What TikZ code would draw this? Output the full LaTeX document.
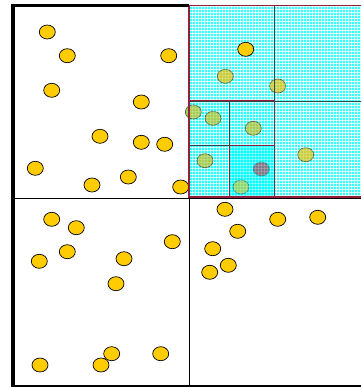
\documentclass[tikz,border=0pt]{standalone}
\usepackage{xcolor}
\definecolor{qgold}{RGB}{255, 204, 0}
\definecolor{qcyan}{RGB}{0, 255, 255}
\definecolor{qmaroon}{RGB}{150, 30, 60}
\definecolor{qslate}{RGB}{40, 70, 75}
\definecolor{qolive}{RGB}{200, 205, 60}
\definecolor{qlime}{RGB}{165, 205, 85}
\definecolor{qmint}{RGB}{140, 215, 110}
\definecolor{qmauve}{RGB}{125, 120, 135}
\usepackage{tikz}
\usetikzlibrary{shapes.geometric, patterns}

\begin{document}
\begin{tikzpicture}[x=1pt, y=-1pt,
    pt/.style={ellipse, draw=black, fill=qgold, line width=0.7pt,
               minimum width=16pt, minimum height=14pt, inner sep=0pt},
    ptin/.style={pt, draw=qslate!80!qgold, fill=#1},
    cell/.style={draw=qslate, line width=0.8pt},
    hatch/.style={pattern=grid, pattern color=white}]
      \useasboundingbox (0,0) rectangle (361,387);
      % points outside the marked quadrant
      \foreach \x/\y [count=\i] in {47.3/32, 67.3/55.7, 168.7/55.7, 51.7/90.3,
            141.3/102, 100/136.3, 141.3/142.3, 164.7/144.3, 35.3/168.3,
            92/185, 128.3/177, 180.7/187, 51.7/219.3, 76.3/227.7,
            172.3/241.7, 67.3/251.7, 39.3/261.3, 124/258.7, 116/283.7,
            111.7/353.7, 160.7/353.7, 40/365, 101/365, 225/209.3,
            277.7/219.3, 317.7/217.3, 237.7/231.3, 212.7/248.7,
            228.3/265.3, 209.7/272.3}
        \node[pt] (p\i) at (\x,\y) {};
      % quadtree cells
      \fill[qcyan!78] (189,5) rectangle (361,197);
      \fill[hatch, opacity=.7] (189,5) rectangle (361,197);
      \fill[qcyan!85] (188,101) rectangle (274,197);
      \fill[hatch, opacity=.6] (188,101) rectangle (274,197);
      \fill[qcyan] (229,145) rectangle (274,197);
      \fill[pattern=grid, pattern color=white, opacity=.25]
            (229,145) rectangle (274,197);
      % points inside the marked quadrant
      \foreach \x/\y [count=\i] in {225.3/76.3, 277.7/86, 305.7/154.7}
        \node[ptin=qolive] (a\i) at (\x,\y) {};
      \foreach \x/\y [count=\i] in {193.3/112, 213/118.3, 253.3/128.3,
            205/160.7}
        \node[ptin=qlime] (b\i) at (\x,\y) {};
      \node[ptin=qmint, draw=qslate!60!qcyan] (c1) at (241,187) {};
      \node[ptin=qmauve, draw=qslate!60!qcyan] (c2) at (261.3,169) {};
      \fill[hatch, opacity=.2] (189,5) rectangle (361,197);
      \draw[cell] (274,5) -- (274,197);
      \draw[cell] (189,101) -- (361,101);
      \draw[cell] (229,101) -- (229,197);
      \draw[cell] (189,145) -- (274,145);
      \node[pt] (ptop) at (245.7,49.3) {};
      % outer frame
      \draw[black, line width=0.9pt] (189,5) -- (189,386);
      \draw[black, line width=0.9pt] (12,198) -- (361,198);
      \draw[qmaroon, line width=1pt] (188.2,101) rectangle (274,197);
      \draw[qmaroon!80!qslate, line width=0.9pt] (229,145) rectangle (274,197);
      \draw[qmaroon, line width=1.5pt] (189,197) -- (189,5.5) -- (361,5.5)
            (189,197) -- (361,197);
      \draw[black, line width=3pt] (11,6) -- (189,6);
      \draw[black, line width=4pt] (13,4.5) -- (13,387);
      \draw[black, line width=1.5pt] (11,385.8) -- (361,385.8);
    \end{tikzpicture}
\end{document}
